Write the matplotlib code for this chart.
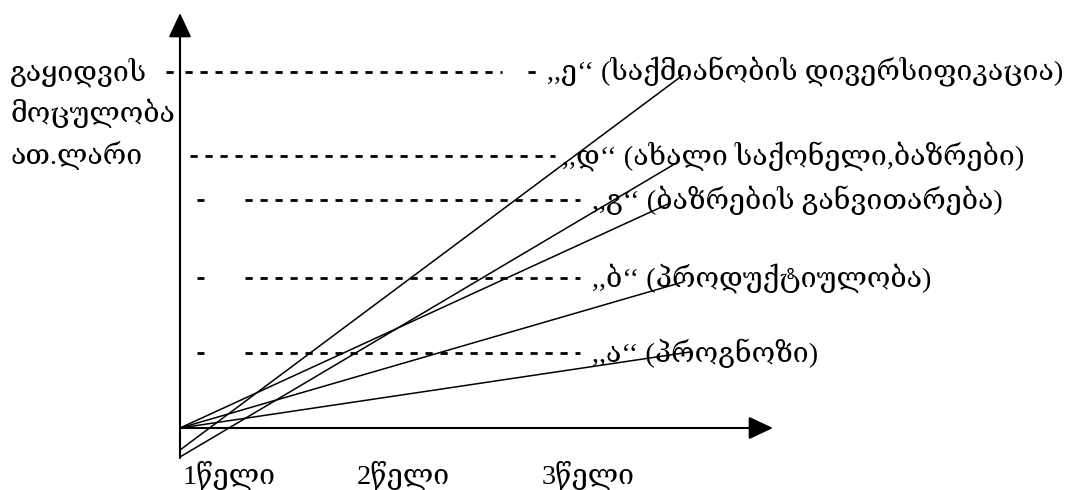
import matplotlib
matplotlib.use("Agg")
import matplotlib.pyplot as plt

plt.rcParams["font.family"] = ["Liberation Serif", "DejaVu Serif"]
plt.rcParams["lines.scale_dashes"] = False

# strategy lines: value at start (x=0) and at the end point
line_names = ["ე", "დ", "გ", "ბ", "ა"]
line_start_y = [-22, -29, 0, 0, 0]
line_end_x = [503, 498, 488, 503, 510]
line_end_y = [353, 266, 224, 146, 76]

# dashed guide levels and their labels
level_y = [356, 272, 228, 150, 75]
level_labels = [
    ",,ე\u2018\u2018 (საქმიანობის დივერსიფიკაცია)",
    ",,დ\u2018\u2018 (ახალი საქონელი,ბაზრები)",
    ",,გ\u2018\u2018 (ბაზრების განვითარება)",
    ",,ბ\u2018\u2018 (პროდუქტიულობა)",
    ",,ა\u2018\u2018 (პროგნოზი)",
]
level_label_x = [367, 382, 412, 412, 412]
# dashed runs per level: (x0, x1) pieces
level_runs = [
    [(-14, -6), (5, 322), (348, 357)],
    [(10, 375)],
    [(17, 24), (65, 400)],
    [(17, 24), (65, 400)],
    [(17, 24), (65, 400)],
]

ylabel_lines = ["გაყიდვის", "მოცულობა", "ათ.ლარი"]
ylabel_y = [356, 315, 273]

xtick_labels = ["1წელი", "2წელი", "3წელი"]
xtick_x = [3, 177, 362]

FS = 20.5

fig = plt.figure(figsize=(10.7, 4.9), dpi=100)
ax = fig.add_axes([0, 0, 1, 1])
ax.set_xlim(-180, 890)
ax.set_ylim(-62, 428)
ax.axis("off")

# axes with arrows
arrow = dict(arrowstyle="-|>,head_length=0.75,head_width=0.35", color="black",
             lw=1.5, shrinkA=0, shrinkB=0, mutation_scale=20)
ax.annotate("", xy=(0, 415), xytext=(0, -30), arrowprops=arrow)
ax.annotate("", xy=(593, 0), xytext=(0, 0), arrowprops=arrow)

# dashed levels
for y, runs in zip(level_y, level_runs):
    for x0, x1 in runs:
        ax.plot([x0, x1], [y, y], color="black", lw=2.0,
                linestyle=(0, (5.2, 5.6)), solid_capstyle="butt",
                dash_capstyle="butt")

# solid strategy lines
for sy, ex, ey in zip(line_start_y, line_end_x, line_end_y):
    ax.plot([0, ex], [sy, ey], color="black", lw=1.1)

for x, y, t in zip(level_label_x, level_y, level_labels):
    ax.text(x, y, t, fontsize=FS, ha="left", va="center")

for y, t in zip(ylabel_y, ylabel_lines):
    ax.text(-170, y, t, fontsize=FS, ha="left", va="center")

for x, t in zip(xtick_x, xtick_labels):
    ax.text(x, -55, t, fontsize=FS, ha="left", va="baseline")

fig.savefig("out.png", dpi=100)
